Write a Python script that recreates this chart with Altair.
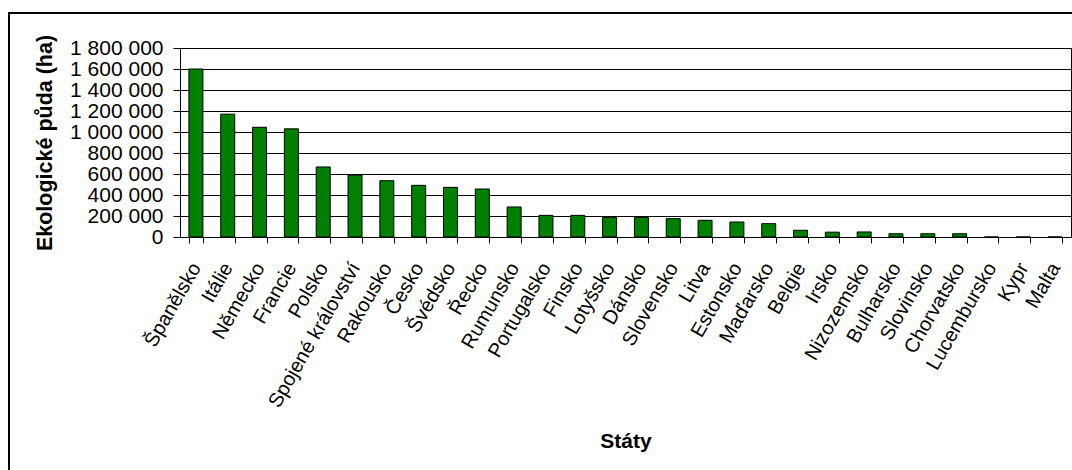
import altair as alt
import pandas as pd

# Organic farming area by EU member state (ha)
staty = [
    "Španělsko", "Itálie", "Německo", "Francie", "Polsko",
    "Spojené království", "Rakousko", "Česko", "Švédsko", "Řecko",
    "Rumunsko", "Portugalsko", "Finsko", "Lotyšsko", "Dánsko",
    "Slovensko", "Litva", "Estonsko", "Maďarsko", "Belgie",
    "Irsko", "Nizozemsko", "Bulharsko", "Slovinsko", "Chorvatsko",
    "Lucembursko", "Kypr", "Malta",
]
puda_ha = [
    1600000, 1170000, 1045000, 1030000, 667000,
    590000, 536000, 492000, 473000, 457000,
    286000, 206000, 206000, 187000, 187000,
    175000, 159000, 143000, 127000, 64000,
    46000, 48000, 31000, 31000, 31000,
    0, 0, 0,
]
y_ticks = [0, 200000, 400000, 600000, 800000, 1000000,
           1200000, 1400000, 1600000, 1800000]

df = pd.DataFrame({"stat": staty, "puda": puda_ha})

FONT = "Liberation Sans"
W, H = 891, 189
PAD = {"left": 180, "top": 48, "right": 1, "bottom": 233}

bars = alt.Chart(df).mark_bar(
    color="#008000", stroke="black", strokeWidth=1
).encode(
    x=alt.X(
        "stat:N",
        sort=staty,
        title="Státy",
        scale=alt.Scale(paddingInner=0.56, paddingOuter=0.28),
        axis=alt.Axis(
            labelAngle=-60,
            labelFontSize=20,
            labelColor="black",
            labelPadding=21,
            labelOverlap=False,
            tickBand="extent",
            tickSize=6,
            tickColor="black",
            domainColor="black",
            titleFontSize=21,
            titleFontWeight="bold",
            titleColor="black",
            titleX=W / 2,
            titleY=204,
            titleAlign="center",
            titleBaseline="middle",
        ),
    ),
    y=alt.Y(
        "puda:Q",
        title="Ekologické půda (ha)",
        scale=alt.Scale(domain=[0, 1800000], nice=False),
        axis=alt.Axis(
            values=y_ticks,
            labelExpr="replace(format(datum.value, ','), regexp(',', 'g'), ' ')",
            labelFontSize=21,
            labelColor="black",
            labelPadding=10,
            labelOverlap=False,
            labelFlush=False,
            tickSize=7,
            tickColor="black",
            domainColor="black",
            grid=True,
            gridColor="black",
            gridOpacity=1,
            gridWidth=1,
            titleFontSize=21.5,
            titleFontWeight="bold",
            titleColor="black",
            titleX=-135,
            titleY=H / 2,
            titleAlign="center",
            titleBaseline="middle",
        ),
    ),
)

# Outer chart frame
frame = alt.Chart(pd.DataFrame({"f": [0]})).mark_rect(
    fillOpacity=0, stroke="black", strokeWidth=2
).encode(
    x=alt.value(-171),
    x2=alt.value(940),
    y=alt.value(-35),
    y2=alt.value(460),
)

chart = alt.layer(frame, bars).properties(
    width=W,
    height=H,
    padding=PAD,
    autosize="none",
    background="white",
).configure(
    font=FONT,
).configure_view(
    stroke="black",
    strokeWidth=1,
)

chart.save("out.html", embed_options={"renderer": "svg", "actions": False})
